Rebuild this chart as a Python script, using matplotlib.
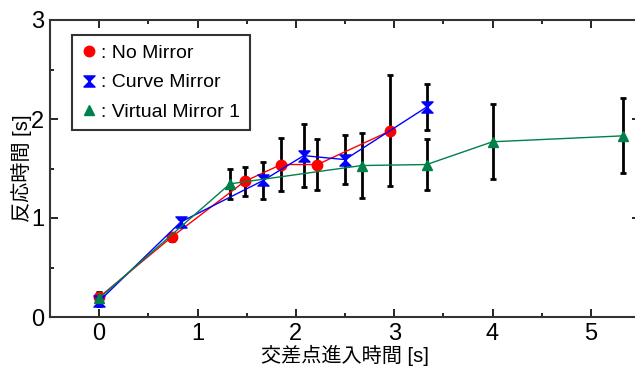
import numpy as np
import matplotlib
matplotlib.use('Agg')
import matplotlib.pyplot as plt
from matplotlib.path import Path
from matplotlib.lines import Line2D
from matplotlib.ticker import MultipleLocator

plt.rcParams['font.family'] = ['Liberation Sans', 'Noto Sans CJK JP', 'DejaVu Sans']

# data
no_x = [0, 0.74, 1.48, 1.85, 2.22, 2.96]
no_y = [0.20, 0.81, 1.37, 1.54, 1.54, 1.88]
no_e = [0.05, 0.04, 0.15, 0.27, 0.26, 0.56]

cv_x = [0, 0.83, 1.67, 2.08, 2.50, 3.33]
cv_y = [0.16, 0.96, 1.38, 1.63, 1.59, 2.12]
cv_e = [0.05, 0.03, 0.19, 0.32, 0.25, 0.23]

vm_x = [0, 1.33, 2.67, 3.33, 4.0, 5.33]
vm_y = [0.19, 1.345, 1.53, 1.54, 1.77, 1.83]
vm_e = [0.05, 0.15, 0.33, 0.255, 0.38, 0.38]

labels = [': No Mirror', ': Curve Mirror', ': Virtual Mirror 1']
colors = ['#ff0000', '#0000ff', '#00804a']

# hourglass marker
hourglass = Path([(-1, 1), (1, 1), (0, 0), (-1, 1), (-1, -1), (1, -1), (0, 0), (-1, -1)],
                 [Path.MOVETO, Path.LINETO, Path.LINETO, Path.CLOSEPOLY,
                  Path.MOVETO, Path.LINETO, Path.LINETO, Path.CLOSEPOLY])

fig = plt.figure(figsize=(6.35, 3.67), dpi=100)
ax = fig.add_axes([50/635, 50/367, 590/635, 297/367])

series = [(no_x, no_y, no_e, 'o', 7.5), (cv_x, cv_y, cv_e, hourglass, 8), (vm_x, vm_y, vm_e, '^', 7)]
for (x, y, e, m, ms), lab, c in zip(series, labels, colors):
    ax.errorbar(x, y, yerr=e, fmt='none', ecolor='black', elinewidth=2,
                capsize=2.5, capthick=2, zorder=2)
    ax.plot(x, y, color=c, lw=1, marker=m, ms=ms, mec=c, mfc=c, label=lab, zorder=3)

ax.set_xlim(-0.5, 5.5)
ax.set_ylim(0, 3)
ax.xaxis.set_major_locator(MultipleLocator(1))
ax.xaxis.set_minor_locator(MultipleLocator(0.5))
ax.yaxis.set_major_locator(MultipleLocator(1))
ax.yaxis.set_minor_locator(MultipleLocator(0.5))
ax.tick_params(which='both', direction='in', top=True, right=True, width=1.2)
ax.tick_params(which='major', length=6, labelsize=17, pad=4)
ax.tick_params(which='minor', length=3)
for s in ax.spines.values():
    s.set_linewidth(1.5)
    s.set_color('#333333')

ax.set_xlabel('交差点進入時間 [s]', fontsize=14.5)
ax.set_ylabel('反応時間 [s]', fontsize=14.5)
ax.xaxis.set_label_coords(0.5, -0.095)
ax.yaxis.set_label_coords(-0.03, 0.5)

hs = [Line2D([], [], ls='none', marker=mm, ms=ms, color=c)
      for (_, _, _, mm, ms), c in zip(series, colors)]
leg = ax.legend(hs, labels, loc='upper left', bbox_to_anchor=(0.037, 0.95),
                borderaxespad=0, fontsize=14, frameon=True, fancybox=False,
                edgecolor='black', handlelength=0.8, handletextpad=0.2,
                borderpad=0.5, labelspacing=0.6)
leg.get_frame().set_linewidth(1.5)

fig.savefig('out.png', dpi=100)
